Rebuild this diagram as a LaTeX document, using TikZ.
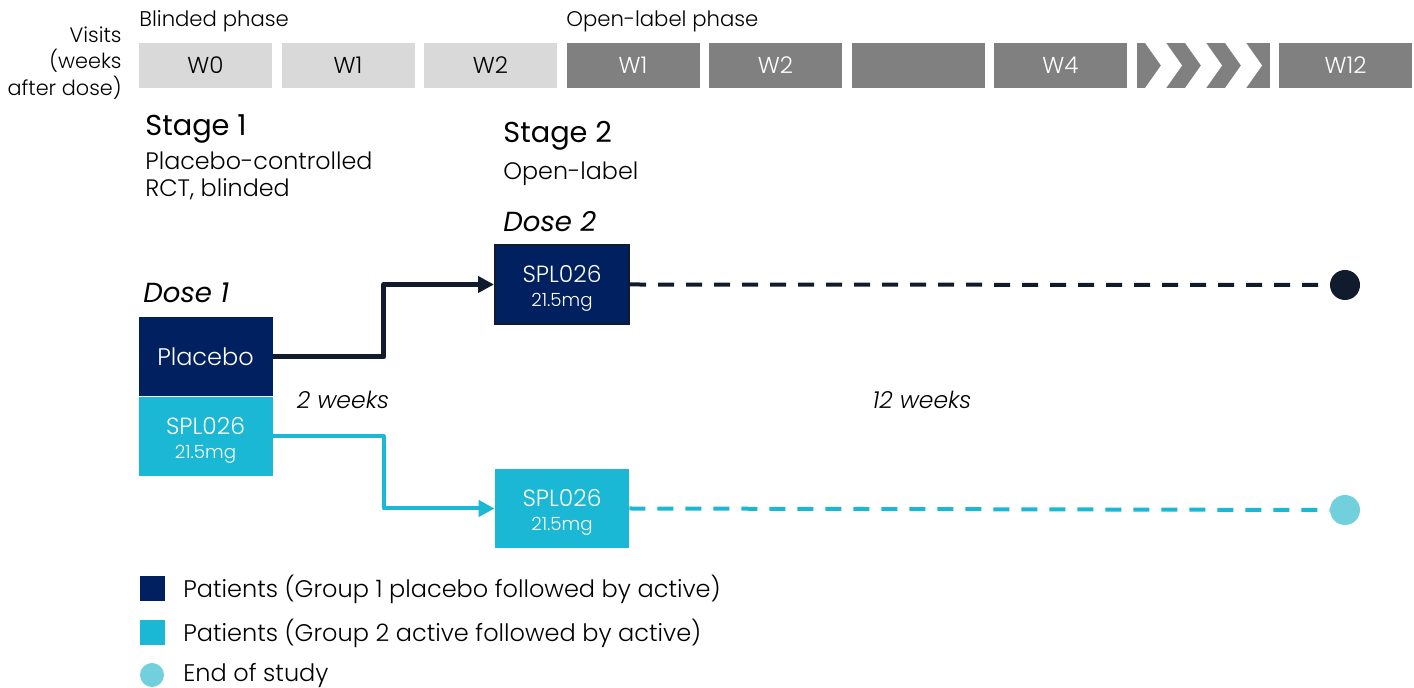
\documentclass[tikz,border=0pt]{standalone}
\usepackage{fontspec}
\setmainfont{Poppins}[UprightFont={* Light},ItalicFont={* Light Italic}]
\newfontfamily\headfont{Poppins}
\usetikzlibrary{arrows.meta}
\definecolor{navy}{RGB}{0,32,96}
\definecolor{ink}{RGB}{16,27,46}
\definecolor{cyanb}{RGB}{26,184,212}
\definecolor{cyanl}{RGB}{114,207,220}
\definecolor{lgray}{RGB}{217,217,217}
\definecolor{dgray}{RGB}{128,128,128}
\newcommand{\spldose}{\rule{0pt}{12.8pt}SPL026\\[-1pt]{\fontsize{9.1}{10}\selectfont 21.5mg}}

\begin{document}
\begin{tikzpicture}[x=0.5pt,y=-0.5pt,
  blindbox/.style={fill=lgray,minimum width=66.5pt,minimum height=22.5pt,inner sep=0pt,font=\fontsize{11.5}{13}\selectfont},
  openbox/.style={blindbox,fill=dgray,text=white},
  armbox/.style={minimum width=67pt,minimum height=39.5pt,inner sep=0pt,text=white,align=center,font=\fontsize{11.7}{13}\selectfont},
  lbl/.style={anchor=west,inner sep=0pt,align=left},
  arm/.style={line width=2.5pt,line join=round,-{Triangle[length=8pt,width=8pt]}},
  follow/.style={line width=2pt,dash pattern=on 8pt off 6pt},
  endpt/.style={circle,inner sep=0pt,minimum size=15pt}]
\useasboundingbox (0,0) rectangle (1414,688);

% visit header
\node[anchor=east,inner sep=0pt,align=right,font=\fontsize{10.4}{13.25}\selectfont] (visits) at (122,63) {Visits\\(weeks\\after dose)};
\node[lbl,font=\fontsize{10.6}{12}\selectfont] (blind) at (139,21) {Blinded phase};
\node[lbl,font=\fontsize{10.6}{12}\selectfont] (open) at (566,21) {Open-label phase};
\foreach \lab [count=\i from 0] in {W0,W1,W2}
  \node[blindbox] (h\i) at (205.5+142.5*\i,65.5) {\lab};
\foreach \lab [count=\i from 3] in {W1,W2,{},W4,{},W12}
  \node[openbox] (h\i) at (205.5+142.5*\i,65.5) {\lab};
\begin{scope}
  \clip (h7.north west) rectangle (h7.south east);
  \foreach \c in {1143,1183,1223}
    \fill[white] (\c,40) -- (\c+18,65.5) -- (\c,91) -- (\c+21,91) -- (\c+39,65.5) -- (\c+21,40) -- cycle;
\end{scope}

% stages
\node[lbl,font=\fontsize{14.4}{16}\headfont] (st1) at (145,129) {Stage 1};
\node[lbl,font=\fontsize{11.9}{13.5}\selectfont] (st1d) at (145,175.5) {Placebo-controlled\\RCT, blinded};
\node[lbl,font=\fontsize{14.4}{16}\headfont] (st2) at (503,136) {Stage 2};
\node[lbl,font=\fontsize{11.9}{13.5}\selectfont] (st2d) at (503,174) {Open-label};
\node[lbl,font=\fontsize{13.8}{15}\headfont\itshape] (dose1) at (143,293) {Dose 1};
\node[lbl,font=\fontsize{13.8}{15}\headfont\itshape] (dose2) at (503,222) {Dose 2};

% arms
\node[armbox,fill=navy,font=\fontsize{12}{13}\selectfont] (plac) at (205.5,357) {Placebo};
\node[armbox,fill=cyanb] (act1) at (205.5,436.5) {\spldose};
\node[armbox,fill=navy,draw=ink,line width=1pt] (act2) at (562,284.5) {\spldose};
\node[armbox,fill=cyanb] (act3) at (562,508.5) {\spldose};
\node[endpt,fill=ink] (end1) at (1345,285) {};
\node[endpt,fill=cyanl] (end2) at (1345,510) {};
\draw[arm,ink] (plac.east) -- ++(111,0) |- (act2.west);
\draw[arm,cyanb,line width=2pt] (act1.east) -- ++(111,0) |- (act3.west);
\draw[follow,ink] (act2.east) -- (end1.west);
\draw[follow,cyanb] (act3.east) -- (end2.west);
\node[inner sep=0pt,font=\fontsize{11.75}{13}\selectfont\itshape] (wk2) at (343,400) {2 weeks};
\node[inner sep=0pt,font=\fontsize{11.75}{13}\selectfont\itshape] (wk12) at (922,400) {12 weeks};

% legend
\node[fill=navy,minimum size=12.5pt,inner sep=0pt] (k1) at (152.5,589) {};
\node[fill=cyanb,minimum size=12.5pt,inner sep=0pt] (k2) at (152.5,633) {};
\node[circle,fill=cyanl,minimum size=12pt,inner sep=0pt] (k3) at (152,675) {};
\node[lbl,font=\fontsize{12}{13.5}\selectfont] (t1) at (183,589) {Patients (Group 1 placebo followed by active)};
\node[lbl,font=\fontsize{12}{13.5}\selectfont] (t2) at (183,633) {Patients (Group 2 active followed by active)};
\node[lbl,font=\fontsize{12}{13.5}\selectfont] (t3) at (183,676) {End of study};
\end{tikzpicture}
\end{document}
